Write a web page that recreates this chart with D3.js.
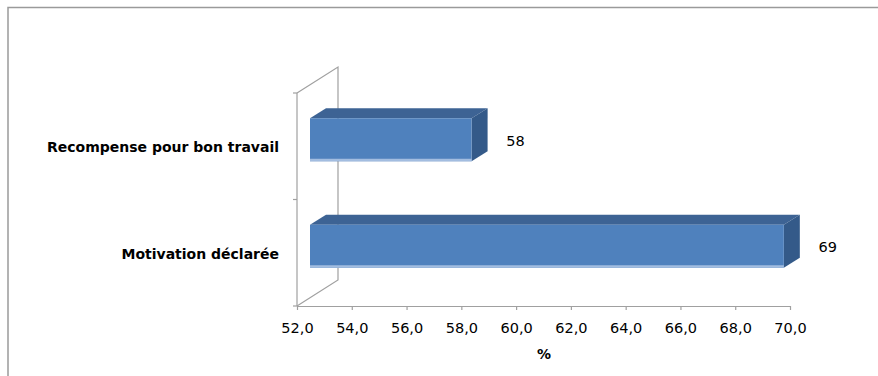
<!DOCTYPE html>
<html><head><meta charset="utf-8">
<script src="https://cdn.jsdelivr.net/npm/d3@7"></script>
<style>body{margin:0;background:#fff}svg{display:block}</style>
</head><body><svg id="c" width="878" height="376"></svg>
<script>
const categories = ["Recompense pour bon travail", "Motivation déclarée"];
const values = [57.9, 69.3];
const valueLabels = ["58", "69"];
const xTicks = [52, 54, 56, 58, 60, 62, 64, 66, 68, 70];
const axisTitle = "%";

const svg = d3.select("#c");
// chart border
svg.append("rect").attr("x", 8).attr("y", 7.5).attr("width", 900).attr("height", 400)
  .attr("fill", "none").attr("stroke", "#9a9a9a").attr("stroke-width", 1.5);

const x = d3.scaleLinear().domain([52, 70]).range([297, 790]);
const y = d3.scaleBand().domain(categories).range([93, 306]);
const wallDx = 41, wallDy = -26;      // depth of the plot
const barOff = 13, barOffY = -6.5;    // front face of bars
const barDx = 16, barDy = -10;        // bar depth
const barH = 43;

const g = svg.append("g");
const wall = "#a0a0a0";
// back wall / side edges
g.append("path").attr("fill", "none").attr("stroke", wall).attr("stroke-width", 1.2)
  .attr("d", `M${x(52)},${y.range()[0]}L${x(52)+wallDx},${y.range()[0]+wallDy}L${x(52)+wallDx},${y.range()[1]+wallDy}L${x(52)},${y.range()[1]}`);
// front vertical axis
g.append("line").attr("x1", x(52)).attr("x2", x(52)).attr("y1", y.range()[0]).attr("y2", y.range()[1])
  .attr("stroke", wall).attr("stroke-width", 1.2);
// y ticks
[y.range()[0], y.range()[0] + y.step(), y.range()[1]].forEach(v => {
  g.append("line").attr("x1", x(52) - 4).attr("x2", x(52)).attr("y1", v).attr("y2", v)
    .attr("stroke", wall).attr("stroke-width", 1.2);
});

// x axis
const xa = g.append("g").attr("transform", `translate(0,${y.range()[1]})`)
  .call(d3.axisBottom(x).tickValues(xTicks).tickSize(4).tickSizeOuter(0).tickPadding(13)
    .tickFormat(d => d3.format(".1f")(d).replace(".", ",")));
xa.select(".domain").attr("stroke", wall).attr("stroke-width", 1.2);
xa.selectAll(".tick line").attr("stroke", wall).attr("stroke-width", 1.2);
xa.selectAll(".tick text").attr("fill", "#000").attr("font-family", "DejaVu Sans").attr("font-size", 14.5);

// bars
categories.forEach((c, i) => {
  const cy = y(c) + y.bandwidth() / 2 + barOffY;
  const x0 = x(52) + barOff, x1 = x(values[i]) + barOff;
  const t = cy - barH / 2, b = cy + barH / 2;
  // top face
  g.append("path").attr("fill", "#3d6394")
    .attr("d", `M${x0},${t}L${x0+barDx},${t+barDy}L${x1+barDx},${t+barDy}L${x1},${t}Z`);
  // side face
  g.append("path").attr("fill", "#345a89")
    .attr("d", `M${x1},${t}L${x1+barDx},${t+barDy}L${x1+barDx},${b+barDy}L${x1},${b}Z`);
  // front face
  g.append("rect").attr("x", x0).attr("y", t).attr("width", x1 - x0).attr("height", barH)
    .attr("fill", "#4f81bd");
  g.append("rect").attr("x", x0).attr("y", b - 2.5).attr("width", x1 - x0).attr("height", 2.5)
    .attr("fill", "#a3bde0");
  // value label
  g.append("text").attr("x", x1 + barDx + 28).attr("y", cy + 2).attr("text-anchor", "middle")
    .attr("dominant-baseline", "middle").attr("font-family", "DejaVu Sans").attr("font-size", 14.5)
    .text(valueLabels[i]);
  // category label
  g.append("text").attr("x", 279).attr("y", y(c) + y.bandwidth() / 2 + 2).attr("text-anchor", "end")
    .attr("dominant-baseline", "middle").attr("font-family", "DejaVu Sans").attr("font-weight", "bold")
    .attr("font-size", 14).text(c);
});

// axis title
svg.append("text").attr("x", 544).attr("y", 355).attr("text-anchor", "middle")
  .attr("dominant-baseline", "middle").attr("font-family", "DejaVu Sans").attr("font-weight", "bold")
  .attr("font-size", 14).text(axisTitle);
</script></body></html>
